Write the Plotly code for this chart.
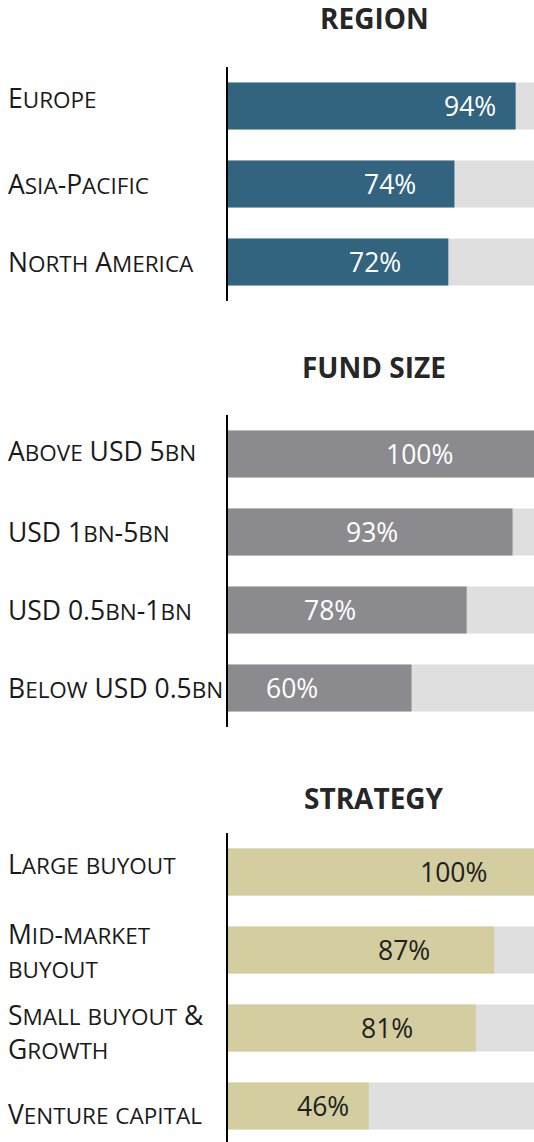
import plotly.graph_objects as go

# ---------------- data ----------------
region_cats = ["Europe", "Asia-Pacific", "North America"]
region_vals = [94, 74, 72]
region_label_pos = [79, 53, 48]          # where the % label sits on the 0-100 axis

fund_cats = ["Above USD 5bn", "USD 1bn-5bn", "USD 0.5bn-1bn", "Below USD 0.5bn"]
fund_vals = [100, 93, 78, 60]
fund_label_pos = [62.6, 47, 33.4, 21]

strategy_cats = ["Large buyout", "Mid-market\nbuyout", "Small buyout &\nGrowth", "Venture capital"]
strategy_vals = [100, 87, 81, 46]
strategy_label_pos = [73.8, 57.4, 52.1, 31.1]

panel_titles = ["REGION", "FUND SIZE", "STRATEGY"]
full_scale = 100

# ---------------- styling ----------------
W, H = 534, 1142
FONT = "Open Sans"
BIG, SMALL = 26.5, 22.5
bar_colors = ["#33647F", "#8B8B8F", "#D3CD9F"]
val_font_colors = ["#FFFFFF", "#FFFFFF", "#1E1E1E"]
bg_color = "#DFDFDF"
label_color = "#1A1A1A"

# panel pixel geometry (top px, number of rows), 78 px per row
ROW = 78
panel_tops = [67, 415, 833]
title_centers = [18, 367, 798]
label_shifts = [[8, 0, 0], [3, 0, 0, 0], [8, 0, -4, -8]]


def smallcaps(s):
    lines = []
    for line in s.split("\n"):
        out = ""
        run = ""
        for ch in line:
            if ch.islower():
                run += ch.upper()
            else:
                if run:
                    out += f'<span style="font-size:{SMALL}px">{run}</span>'
                    run = ""
                out += "&amp;" if ch == "&" else ch
        if run:
            out += f'<span style="font-size:{SMALL}px">{run}</span>'
        lines.append(out)
    return "<br>".join(lines)


panels = [
    (region_cats, region_vals, region_label_pos),
    (fund_cats, fund_vals, fund_label_pos),
    (strategy_cats, strategy_vals, strategy_label_pos),
]

fig = go.Figure()
annotations = []
layout_axes = {}
x0 = 228 / W

for i, (cats, vals, lpos) in enumerate(panels):
    n = len(cats)
    xa = "x" if i == 0 else f"x{i+1}"
    ya = "y" if i == 0 else f"y{i+1}"
    idx = list(range(n))
    fig.add_trace(go.Bar(
        y=idx, x=[full_scale] * n, orientation="h", xaxis=xa, yaxis=ya,
        marker=dict(color=bg_color, line=dict(width=0)), width=0.6,
        hoverinfo="skip", showlegend=False))
    fig.add_trace(go.Bar(
        y=idx, x=vals, orientation="h", xaxis=xa, yaxis=ya,
        marker=dict(color=bar_colors[i], line=dict(width=0)), width=0.6,
        showlegend=False))

    top = panel_tops[i]
    bottom = min(top + ROW * n, H)
    rows_visible = (bottom - top) / ROW
    dom = [1 - bottom / H, 1 - top / H]
    xkey = "xaxis" if i == 0 else f"xaxis{i+1}"
    ykey = "yaxis" if i == 0 else f"yaxis{i+1}"
    layout_axes[xkey] = dict(domain=[x0, 1], range=[0, full_scale], visible=False,
                             anchor=ya, fixedrange=True)
    layout_axes[ykey] = dict(domain=dom, range=[-0.5 + rows_visible, -0.5],
                             anchor=xa, showline=True, linecolor="#000000",
                             linewidth=2, showticklabels=False, ticks="",
                             showgrid=False, zeroline=False, fixedrange=True)

    for j, c in enumerate(cats):
        annotations.append(dict(
            x=6 / W, xref="paper", xanchor="left", y=j, yref=ya, yanchor="middle",
            yshift=label_shifts[i][j], text=smallcaps(c), showarrow=False, align="left",
            font=dict(family=FONT, size=BIG, color=label_color)))
        annotations.append(dict(
            x=lpos[j], xref=xa, xanchor="center", y=j, yref=ya, yanchor="middle",
            text=f"{vals[j]}%", showarrow=False,
            font=dict(family=FONT, size=BIG, color=val_font_colors[i])))

    annotations.append(dict(
        x=374 / W, xref="paper", xanchor="center", y=1 - title_centers[i] / H,
        yref="paper", yanchor="middle", text=f"<b>{panel_titles[i]}</b>",
        showarrow=False, font=dict(family=FONT, size=28, color="#262626")))

fig.update_layout(
    width=W, height=H, margin=dict(l=0, r=0, t=0, b=0),
    paper_bgcolor="white", plot_bgcolor="white", barmode="overlay",
    annotations=annotations, **layout_axes)

fig.write_html("out.html", config={"displayModeBar": False},
               post_script="document.body.style.margin='0';document.body.style.overflow='hidden';")
